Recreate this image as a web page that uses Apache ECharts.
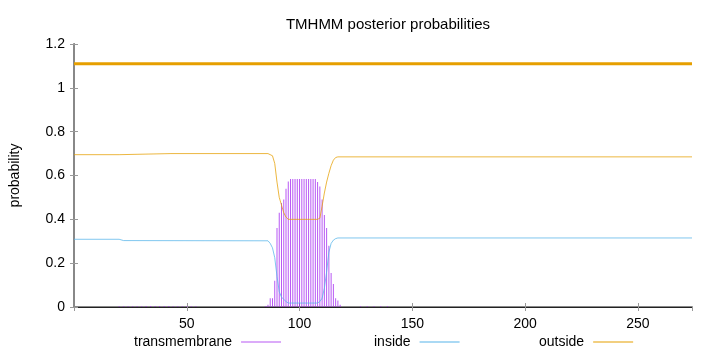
<!DOCTYPE html>
<html>
<head>
<meta charset="utf-8">
<script src="https://cdn.jsdelivr.net/npm/echarts@6/dist/echarts.min.js"></script>
<style>
  html, body { margin: 0; padding: 0; background: #fff; }
  #chart { width: 720px; height: 352px; }
</style>
</head>
<body>
<div id="chart"></div>
<script>
// residue positions and posterior probabilities
const tmResidues = [20, 22, 24, 26, 28, 30, 32, 34, 36, 38, 40, 42, 44, 46, 48, 50, 52, 54,
  85, 86, 87, 88, 89, 90, 91, 92, 93, 94, 95, 96, 97, 98, 99, 100, 101, 102,
  103, 104, 105, 106, 107, 108, 109, 110, 111, 112, 113, 114, 115, 116, 117, 118,
  127, 130, 133, 136, 139]
const tmProb = [0.003, 0.003, 0.003, 0.003, 0.003, 0.003, 0.004, 0.004, 0.004, 0.004, 0.004,
  0.004, 0.003, 0.003, 0.003, 0.003, 0.003, 0.003,
  0.005, 0.01, 0.04, 0.04, 0.12, 0.36, 0.43, 0.475, 0.49, 0.54, 0.573, 0.584, 0.584, 0.584,
  0.584, 0.584, 0.584, 0.584, 0.584, 0.584, 0.584, 0.584, 0.584, 0.57, 0.55, 0.49, 0.42,
  0.36, 0.28, 0.155, 0.105, 0.04, 0.03, 0.01,
  0.003, 0.003, 0.003, 0.003, 0.003]

const insidePts = [[0, 0.309], [20, 0.309], [22, 0.303], [86, 0.302], [87, 0.29], [88, 0.27],
  [89, 0.225], [90, 0.14], [91, 0.07], [92, 0.045], [93, 0.035], [94, 0.025], [95, 0.018],
  [108, 0.018], [109, 0.025], [110, 0.04], [111, 0.085], [112, 0.16], [113, 0.25],
  [114, 0.29], [115, 0.305], [116, 0.312], [117, 0.315], [274, 0.315]]

const outsidePts = [[0, 0.695], [20, 0.695], [43, 0.70], [86, 0.70], [88, 0.69], [89, 0.655],
  [90, 0.57], [91, 0.50], [92, 0.465], [93, 0.43], [94, 0.41], [95, 0.40], [108, 0.40],
  [109, 0.405], [110, 0.46], [111, 0.52], [112, 0.57], [113, 0.61], [114, 0.645],
  [115, 0.67], [116, 0.682], [117, 0.685], [274, 0.685]]

// predicted topology: whole sequence outside
const topologyPts = [[0, 1.11], [274, 1.11]]

const xRange = [0, 274]
const yTicks = [0, 0.2, 0.4, 0.6, 0.8, 1, 1.2]

const font = 'Liberation Sans, Arial, sans-serif'
const tickStyle = { show: true, inside: true, length: 4, lineStyle: { color: '#999' } }

const chart = echarts.init(document.getElementById('chart'), null, { renderer: 'canvas' })

chart.setOption({
  animation: false,
  textStyle: { fontFamily: font },
  title: {
    text: 'TMHMM posterior probabilities',
    left: 383,
    textAlign: 'center',
    top: 12,
    textStyle: { fontSize: 15, fontWeight: 'normal', color: '#000', fontFamily: font }
  },
  grid: { left: 73, right: 28, top: 44, bottom: 45 },
  legend: [
    { data: ['transmembrane'], left: 134, top: 335 },
    { data: ['inside'], left: 374, top: 335 },
    { data: ['outside'], left: 539, top: 335 }
  ].map(l => Object.assign(l, {
    align: 'right',
    padding: 0,
    icon: 'rect',
    itemWidth: 40,
    itemHeight: 1,
    textStyle: { fontSize: 14, color: '#000', fontFamily: font, padding: [0, 4, 0, 0] }
  })),
  xAxis: [
    {
      type: 'value',
      min: xRange[0],
      max: xRange[1],
      interval: 50,
      axisLine: { show: true, lineStyle: { color: '#888', width: 2 } },
      axisTick: tickStyle,
      axisLabel: { showMinLabel: false, showMaxLabel: false, fontSize: 14, color: '#000', margin: 10 },
      splitLine: { show: false }
    },
    {
      type: 'value',
      position: 'top',
      min: xRange[0],
      max: xRange[1],
      interval: 50,
      axisLine: { show: true, lineStyle: { color: '#222', width: 1 } },
      axisTick: tickStyle,
      axisLabel: { show: false },
      splitLine: { show: false }
    }
  ],
  yAxis: [
    {
      type: 'value',
      min: yTicks[0],
      max: yTicks[yTicks.length - 1],
      interval: 0.2,
      name: 'probability',
      nameLocation: 'middle',
      nameGap: 52,
      nameTextStyle: { fontSize: 14, color: '#000' },
      axisLine: { show: true, lineStyle: { color: '#222', width: 1 } },
      axisTick: tickStyle,
      axisLabel: { fontSize: 14, color: '#000', margin: 9 },
      splitLine: { show: false }
    },
    {
      type: 'value',
      position: 'right',
      min: yTicks[0],
      max: yTicks[yTicks.length - 1],
      interval: 0.2,
      axisLine: { show: true, lineStyle: { color: '#888', width: 2 } },
      axisTick: tickStyle,
      axisLabel: { show: false },
      splitLine: { show: false }
    }
  ],
  series: [
    {
      name: 'transmembrane',
      type: 'bar',
      barWidth: 1,
      itemStyle: { color: '#a020f0', opacity: 0.75 },
      data: tmResidues.map((r, i) => [r, tmProb[i]])
    },
    {
      name: 'inside',
      type: 'line',
      symbol: 'none',
      lineStyle: { color: '#56b4e9', width: 1, opacity: 0.75 },
      itemStyle: { color: '#56b4e9' },
      data: insidePts
    },
    {
      name: 'outside',
      type: 'line',
      symbol: 'none',
      lineStyle: { color: '#e69f00', width: 1, opacity: 0.75 },
      itemStyle: { color: '#e69f00' },
      data: outsidePts
    },
    {
      name: 'topology',
      type: 'line',
      symbol: 'none',
      silent: true,
      lineStyle: { color: '#e69f00', width: 3 },
      data: topologyPts
    }
  ]
})
</script>
</body>
</html>
